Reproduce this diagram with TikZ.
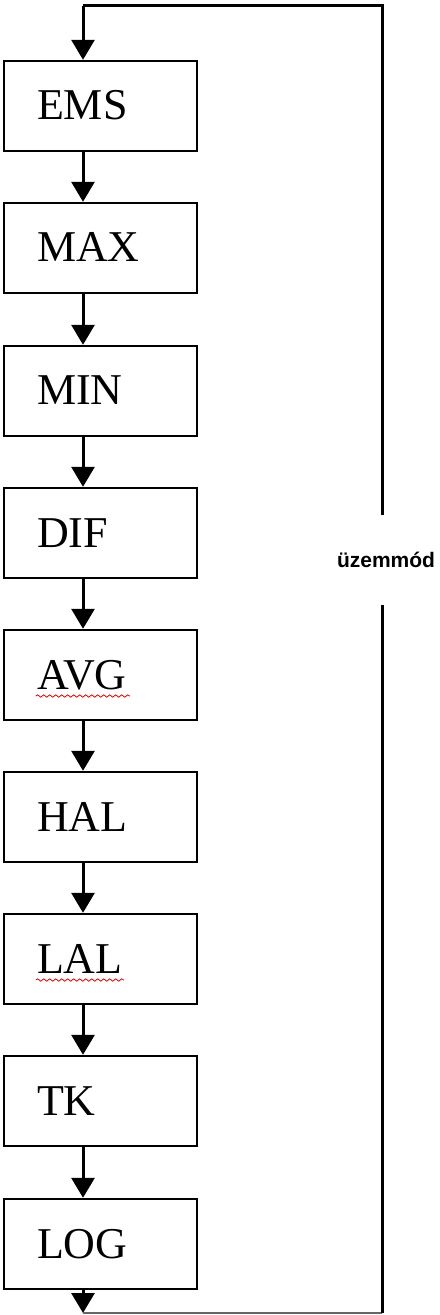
\documentclass[tikz,border=0pt]{standalone}
\usepackage{fontspec}
\setmainfont{Liberation Serif}
\newfontfamily\modefont{Liberation Sans}
\usetikzlibrary{ arrows.meta,              % For the filled triangle tips
                 positioning,              % For easy node-relative placements
                 decorations.pathmorphing, % For the wavy underlines
               }

\begin{document}
\begin{tikzpicture}[x=0.5pt, y=-0.5pt,
    stage/.style={draw, line width=1.2pt, minimum width=96.5pt, minimum height=45pt,
                  inner xsep=16.5pt, text width=63.5pt, align=left,
                  text height=14pt, text depth=0pt,
                  font=\fontsize{22}{22}\selectfont},
    flow/.style={line width=1.5pt, -{Triangle[width=11.5pt,length=10pt]}},
    rail/.style={line width=1.5pt, line join=miter},
    spell/.style={red, line width=0.4pt, decorate,
                  decoration={snake, amplitude=0.6pt, segment length=3pt}}]
  \useasboundingbox (0,0) rectangle (439,1315);

  \node[stage] (ems) at (100.5,106) {EMS};
  \node[stage] (max) at (100.5,248) {MAX};
  \node[stage] (min) at (100.5,391) {MIN};
  \node[stage] (dif) at (100.5,533) {DIF};
  \node[stage] (avg) at (100.5,675) {AVG};
  \node[stage] (hal) at (100.5,817) {HAL};
  \node[stage] (lal) at (100.5,959) {LAL};
  \node[stage] (tk) at (100.5,1101) {TK};
  \node[stage] (log) at (100.5,1244) {LOG};

  \node[font=\modefont\bfseries\fontsize{10.5}{12}\selectfont,
        minimum height=45pt, inner sep=0pt] (mode) at (386,560) {üzemmód};

  \coordinate (axis) at (83,0);
  \coordinate (side) at (382,0);
  \coordinate (exit) at (83,1313);
  \coordinate (entry) at (83,6);

  \draw[flow] (ems.south -| axis) -- (max.north -| axis);
  \draw[flow] (max.south -| axis) -- (min.north -| axis);
  \draw[flow] (min.south -| axis) -- (dif.north -| axis);
  \draw[flow] (dif.south -| axis) -- (avg.north -| axis);
  \draw[flow] (avg.south -| axis) -- (hal.north -| axis);
  \draw[flow] (hal.south -| axis) -- (lal.north -| axis);
  \draw[flow] (lal.south -| axis) -- (tk.north -| axis);
  \draw[flow] (tk.south -| axis) -- (log.north -| axis);
  \draw[flow] (log.south -| axis) -- (exit);

  % way back to the top
  \draw[line width=0.8pt, black!60] (exit) -- (exit -| side);
  \draw[rail] (exit -| side) -- (mode.south -| side);
  \draw[rail] (mode.north -| side) -- (entry -| side) -- (entry);
  \draw[flow] (entry) -- (ems.north -| axis);

  \draw[spell] ([xshift=16.5pt, yshift=-3.5pt]avg.base west) -- ++(47pt,0);
  \draw[spell] ([xshift=16.5pt, yshift=-3.5pt]lal.base west) -- ++(44pt,0);
\end{tikzpicture}
\end{document}
